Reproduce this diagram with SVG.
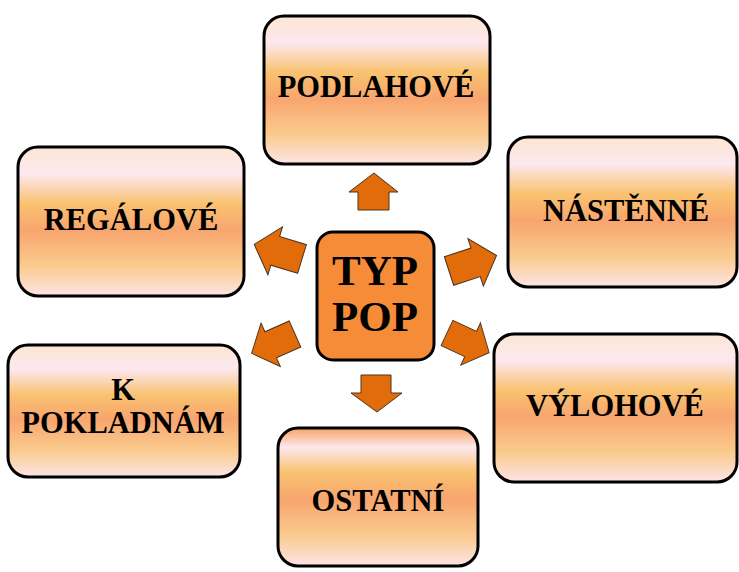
<svg xmlns="http://www.w3.org/2000/svg" width="739" height="572" viewBox="0 0 739 572">
<defs>
<linearGradient id="g" x1="0" y1="0" x2="0" y2="1">
<stop offset="0" stop-color="#FCE6D2"/>
<stop offset="0.18" stop-color="#FDE8F0"/>
<stop offset="0.38" stop-color="#F9C270"/>
<stop offset="0.56" stop-color="#F8A56E"/>
<stop offset="0.8" stop-color="#FACB8E"/>
<stop offset="1" stop-color="#FCE4E6"/>
</linearGradient>
<linearGradient id="g2" x1="0" y1="0" x2="0" y2="1">
<stop offset="0" stop-color="#F9A262"/>
<stop offset="0.14" stop-color="#FDE8F0"/>
<stop offset="0.32" stop-color="#F9C270"/>
<stop offset="0.52" stop-color="#F8A56E"/>
<stop offset="0.78" stop-color="#FACB8E"/>
<stop offset="1" stop-color="#FCE4E6"/>
</linearGradient>
<path id="arr" d="M0,-15 L28,-15 L28,-25 L50,0 L28,25 L28,15 L0,15 Z"/>
</defs>
<style>
.box{fill:url(#g);stroke:#000;stroke-width:3}
.lbl{font-family:"Liberation Serif","Times New Roman",serif;font-weight:bold;font-size:30.5px;fill:#000;text-anchor:middle}
.ctr{fill:#F68B38;stroke:#000;stroke-width:3}
.ctl{font-family:"Liberation Serif","Times New Roman",serif;font-weight:bold;font-size:43px;fill:#000;text-anchor:middle}
.ar{fill:#E36C0A;stroke:#4a3320;stroke-width:1}
</style>
<g id="connectors">
<path class="ar" d="M358,210 L358,192 L349,192 L374,173 L398,192 L389,192 L389,210 Z"/>
<path class="ar" d="M361,375 L391,375 L391,393 L402,393 L377,412 L351,393 L361,393 Z"/>
<use href="#arr" class="ar" transform="translate(302,259) rotate(197)"/>
<use href="#arr" class="ar" transform="translate(449,271) rotate(-18)"/>
<use href="#arr" class="ar" transform="translate(295,334) rotate(156) scale(0.95)"/>
<use href="#arr" class="ar" transform="translate(447,333) rotate(25) scale(0.93)"/>
</g>
<g id="podlahove">
<rect class="box" x="264" y="16" width="226" height="148" rx="20"/>
<text class="lbl" x="376" y="97">PODLAHOVÉ</text>
</g>
<g id="regalove">
<rect class="box" x="18" y="147" width="226" height="149" rx="20"/>
<text class="lbl" x="131" y="230">REGÁLOVÉ</text>
</g>
<g id="nastenne">
<rect class="box" x="508" y="137" width="229" height="150" rx="20"/>
<text class="lbl" x="626" y="221">NÁSTĚNNÉ</text>
</g>
<g id="k-pokladnam">
<rect class="box" x="8" y="345" width="232" height="132" rx="20"/>
<text class="lbl" x="123" y="400">K</text>
<text class="lbl" x="123" y="433">POKLADNÁM</text>
</g>
<g id="vylohove">
<rect class="box" x="494" y="334" width="243" height="148" rx="20"/>
<text class="lbl" x="615" y="416">VÝLOHOVÉ</text>
</g>
<g id="ostatni">
<rect class="box" style="fill:url(#g2)" x="278" y="428" width="200" height="138" rx="20"/>
<text class="lbl" x="378" y="511">OSTATNÍ</text>
</g>
<g id="typ-pop">
<rect class="ctr" x="317" y="232" width="117" height="128" rx="16"/>
<text class="ctl" x="375" y="285">TYP</text>
<text class="ctl" x="375" y="331">POP</text>
</g>
</svg>
